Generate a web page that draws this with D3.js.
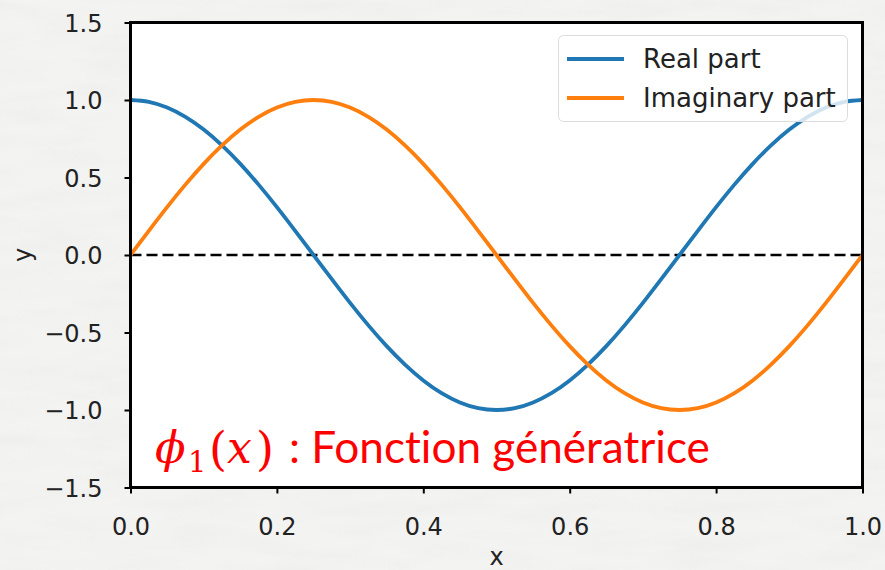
<!DOCTYPE html>
<html>
<head>
<meta charset="utf-8">
<script src="https://cdn.jsdelivr.net/npm/d3@7/dist/d3.min.js"></script>
<style>
  html, body { margin: 0; padding: 0; background: #f2f2f1; }
  svg { display: block; }
</style>
</head>
<body>
<svg id="chart" width="885" height="570"></svg>
<script>
// Sample positions along x
const xs = [0, 0.025, 0.05, 0.075, 0.1, 0.125, 0.15, 0.175, 0.2, 0.225,
            0.25, 0.275, 0.3, 0.325, 0.35, 0.375, 0.4, 0.425, 0.45, 0.475,
            0.5, 0.525, 0.55, 0.575, 0.6, 0.625, 0.65, 0.675, 0.7, 0.725,
            0.75, 0.775, 0.8, 0.825, 0.85, 0.875, 0.9, 0.925, 0.95, 0.975, 1.0];

// Real part of phi_1(x)
const realPart = [1, 0.988, 0.951, 0.891, 0.809, 0.707, 0.588, 0.454, 0.309, 0.156,
                  0, -0.156, -0.309, -0.454, -0.588, -0.707, -0.809, -0.891, -0.951, -0.988,
                  -1, -0.988, -0.951, -0.891, -0.809, -0.707, -0.588, -0.454, -0.309, -0.156,
                  0, 0.156, 0.309, 0.454, 0.588, 0.707, 0.809, 0.891, 0.951, 0.988, 1];

// Imaginary part of phi_1(x)
const imagPart = [0, 0.156, 0.309, 0.454, 0.588, 0.707, 0.809, 0.891, 0.951, 0.988,
                  1, 0.988, 0.951, 0.891, 0.809, 0.707, 0.588, 0.454, 0.309, 0.156,
                  0, -0.156, -0.309, -0.454, -0.588, -0.707, -0.809, -0.891, -0.951, -0.988,
                  -1, -0.988, -0.951, -0.891, -0.809, -0.707, -0.588, -0.454, -0.309, -0.156, 0];

const seriesNames = ["Real part", "Imaginary part"];
const seriesColors = ["#1f77b4", "#ff7f0e"];
const xTicks = [0.0, 0.2, 0.4, 0.6, 0.8, 1.0];
const yTicks = [-1.5, -1.0, -0.5, 0.0, 0.5, 1.0, 1.5];

const svg = d3.select("#chart");
const W = 885, H = 570;

// Paper-like background
const defs = svg.append("defs");
const f = defs.append("filter").attr("id", "paper")
  .attr("x", 0).attr("y", 0).attr("width", "100%").attr("height", "100%");
f.append("feTurbulence").attr("type", "fractalNoise")
  .attr("baseFrequency", "0.012 0.06").attr("numOctaves", 3).attr("seed", 7);
f.append("feColorMatrix").attr("type", "matrix")
  .attr("values", "0 0 0 0 0.45  0 0 0 0 0.45  0 0 0 0 0.45  0 0 0 -0.9 0.55");
svg.append("rect").attr("width", W).attr("height", H).attr("fill", "#f3f3f2");
svg.append("rect").attr("width", W).attr("height", H).attr("filter", "url(#paper)").attr("opacity", 0.14);

const pLeft = 130.5, pRight = 862.5, pTop = 22.5, pBottom = 487.5;
const x = d3.scaleLinear().domain([0, 1]).range([pLeft, pRight]);
const y = d3.scaleLinear().domain([-1.5, 1.5]).range([pBottom, pTop]);

defs.append("clipPath").attr("id", "plotclip")
  .append("rect").attr("x", pLeft).attr("y", pTop)
  .attr("width", pRight - pLeft).attr("height", pBottom - pTop);

// Plot area
svg.append("rect").attr("x", pLeft).attr("y", pTop)
  .attr("width", pRight - pLeft).attr("height", pBottom - pTop).attr("fill", "#ffffff");

const tickFont = "DejaVu Sans, sans-serif";
const fmt = v => d3.format(".1f")(v).replace("-", "\u2212");

// Axes
const yAxis = svg.append("g").attr("transform", `translate(${pLeft},0)`)
  .call(d3.axisLeft(y).tickValues(yTicks).tickFormat(fmt).tickSize(6));
const xAxis = svg.append("g").attr("transform", `translate(0,${pBottom})`)
  .call(d3.axisBottom(x).tickValues(xTicks).tickFormat(fmt).tickSize(6));
[xAxis, yAxis].forEach(g => {
  g.select(".domain").remove();
  g.selectAll(".tick line").attr("stroke", "#000").attr("stroke-width", 2);
  g.selectAll(".tick text").attr("fill", "#222").attr("font-family", tickFont).attr("font-size", 24);
});
yAxis.selectAll(".tick text").attr("dy", "0.36em").attr("x", -28);
xAxis.selectAll(".tick text").attr("dy", "0.71em").attr("y", 30);

// Axis labels
svg.append("text").attr("x", (pLeft + pRight) / 2).attr("y", 565)
  .attr("text-anchor", "middle").attr("font-family", tickFont).attr("font-size", 24)
  .attr("fill", "#222").text("x");
svg.append("text").attr("transform", `translate(31,${(pTop + pBottom) / 2}) rotate(-90)`)
  .attr("text-anchor", "middle").attr("font-family", tickFont).attr("font-size", 24)
  .attr("fill", "#222").text("y");

const plot = svg.append("g").attr("clip-path", "url(#plotclip)");

// Zero reference line
plot.append("line").attr("x1", x(0)).attr("x2", x(1)).attr("y1", y(0)).attr("y2", y(0))
  .attr("stroke", "#000").attr("stroke-width", 2.6).attr("stroke-dasharray", "11,5");

const line = d3.line().x(d => x(d[0])).y(d => y(d[1])).curve(d3.curveNatural);
[realPart, imagPart].forEach((vals, i) => {
  plot.append("path").datum(xs.map((v, k) => [v, vals[k]]))
    .attr("d", line).attr("fill", "none")
    .attr("stroke", seriesColors[i]).attr("stroke-width", 3.8);
});

// Legend
const lg = svg.append("g");
lg.append("rect").attr("x", 558.5).attr("y", 35.5).attr("width", 289).attr("height", 86)
  .attr("rx", 5).attr("fill", "#ffffff").attr("fill-opacity", 0.8)
  .attr("stroke", "#dcdcdc").attr("stroke-width", 1);
seriesNames.forEach((name, i) => {
  const yy = 59 + i * 39;
  lg.append("line").attr("x1", 567).attr("x2", 624).attr("y1", yy).attr("y2", yy)
    .attr("stroke", seriesColors[i]).attr("stroke-width", 3.8);
  lg.append("text").attr("x", 643).attr("y", yy).attr("dy", "0.36em")
    .attr("font-family", tickFont).attr("font-size", 26).attr("fill", "#222").text(name);
});

// Frame
svg.append("rect").attr("x", pLeft).attr("y", pTop)
  .attr("width", pRight - pLeft).attr("height", pBottom - pTop)
  .attr("fill", "none").attr("stroke", "#000").attr("stroke-width", 3);

// Annotation
const red = "#ff0000";
const ann = svg.append("g").attr("fill", red);
const mathFont = "DejaVu Serif, serif";
ann.append("text").attr("x", 155).attr("y", 463).attr("font-family", mathFont)
  .attr("font-style", "italic").attr("font-size", 45).text("\u03d5");
ann.append("text").attr("x", 188).attr("y", 472).attr("font-family", mathFont)
  .attr("font-size", 29).text("1");
ann.append("text").attr("x", 209).attr("y", 465).attr("font-family", mathFont)
  .attr("font-size", 46).text("(");
ann.append("text").attr("x", 227).attr("y", 463).attr("font-family", mathFont)
  .attr("font-style", "italic").attr("font-size", 44).text("x");
ann.append("text").attr("x", 256).attr("y", 465).attr("font-family", mathFont)
  .attr("font-size", 46).text(")");
const desc = ann.append("text").attr("x", 289).attr("y", 463)
  .attr("font-family", "Lato, sans-serif").attr("font-size", 40)
  .style("font-variant-ligatures", "none")
  .text(": Fonction génératrice");
const w = desc.node().getComputedTextLength();
desc.attr("font-size", 40 * (711 - 290) / w);
</script>
</body>
</html>
